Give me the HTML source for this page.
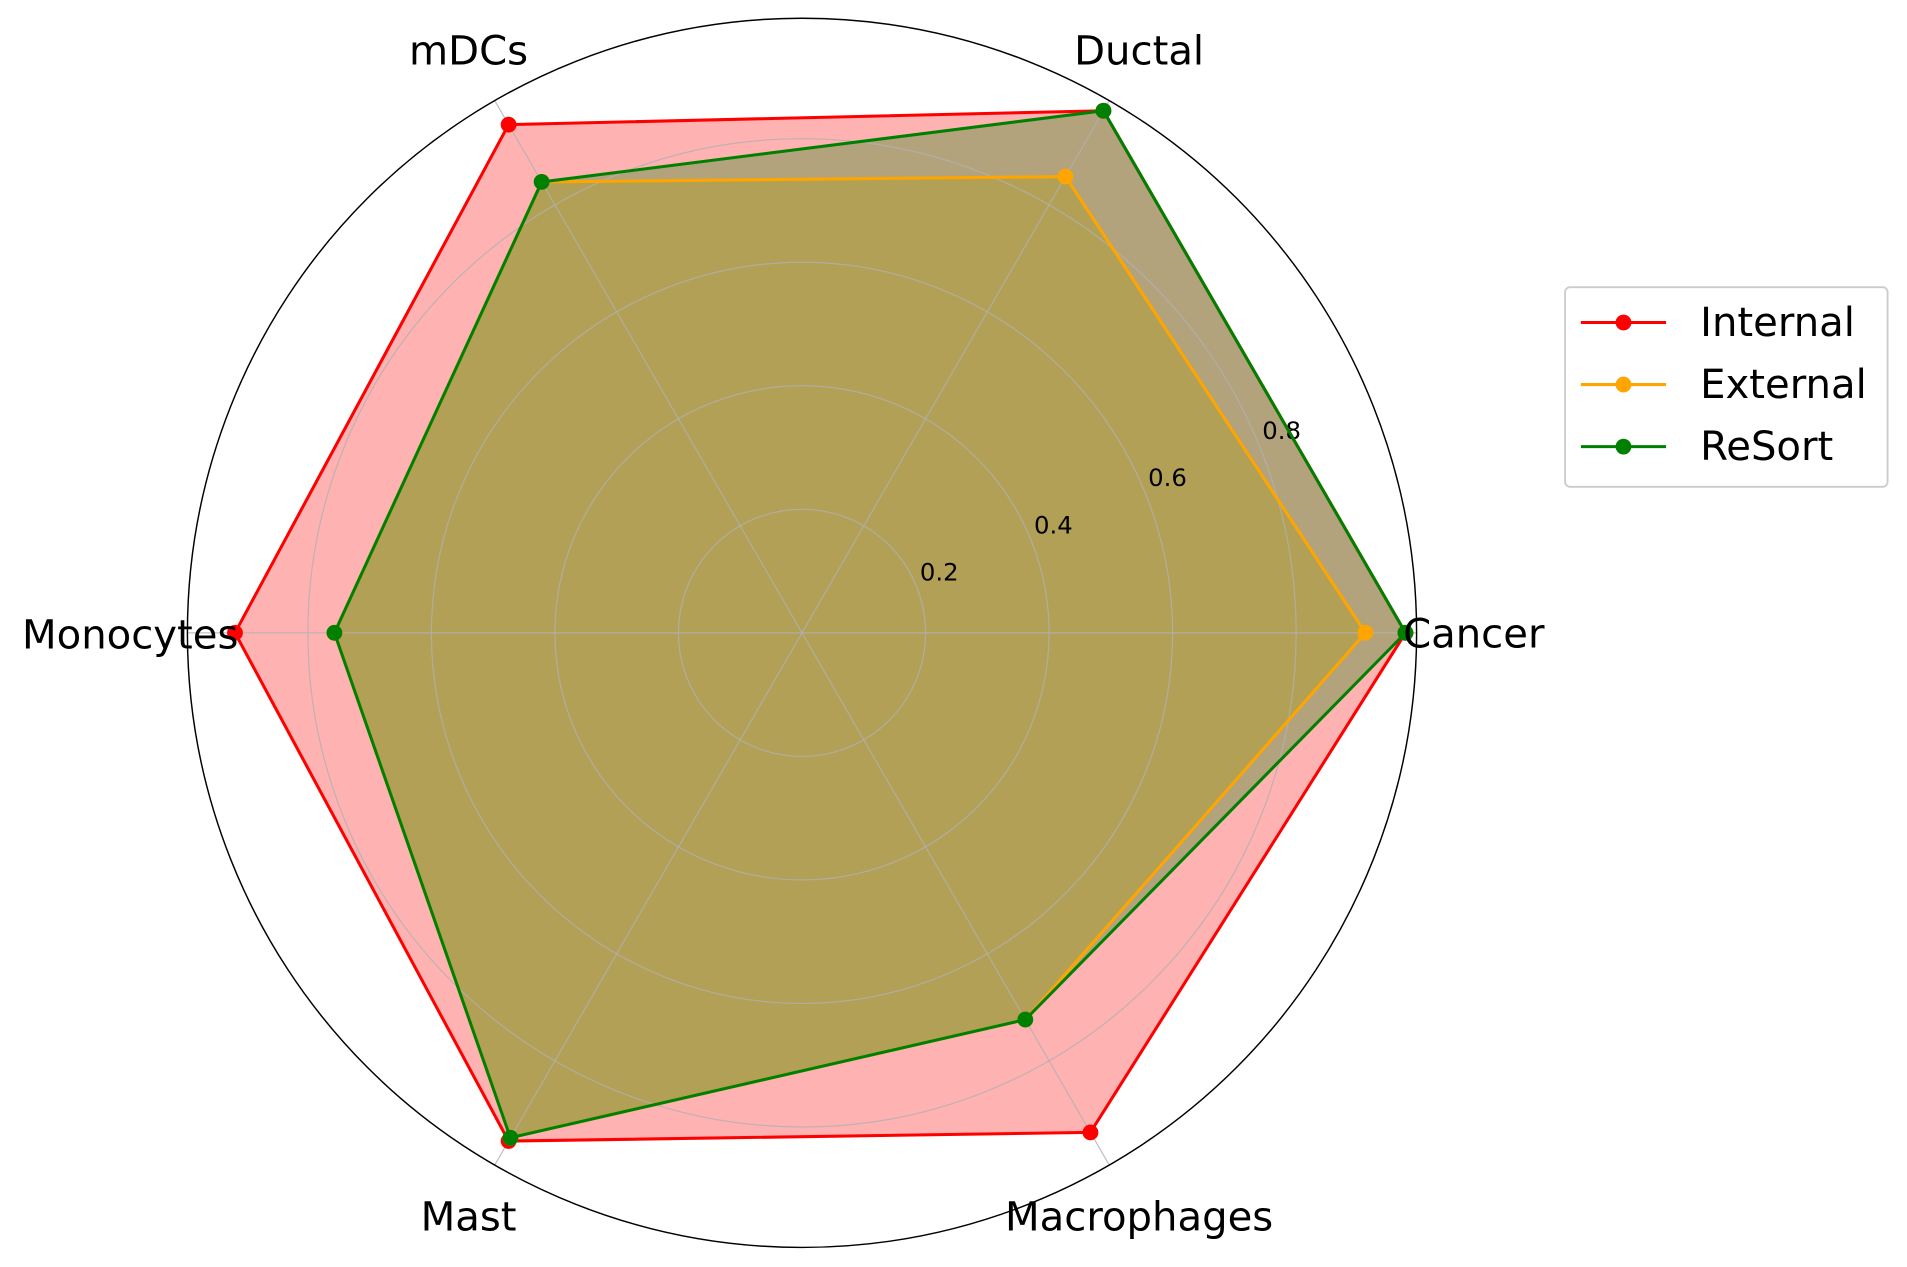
<!DOCTYPE html>
<html><head><meta charset="utf-8"><style>
html,body{margin:0;padding:0;background:#fff;}
svg{display:block;font-family:"DejaVu Sans","Liberation Sans",sans-serif;}
</style></head><body>
<svg id="chart" width="1907" height="1267" viewBox="0 0 1907 1267">
<g transform="scale(1.217)">
<g id="series"></g>
<g id="grid"></g>
<g id="marks"></g>
<g id="labels"></g>
<g id="legend">
<rect x="1286" y="236" width="265" height="164" rx="4" fill="#fff" stroke="#ccc" stroke-width="1.5"/>
</g>
</g>
</svg>
<script>
const categories = ["Cancer","Ductal","mDCs","Monocytes","Mast","Macrophages"];
const seriesNames = ["Internal","External","ReSort"];
const internalValues = [0.977,0.976,0.950,0.918,0.950,0.934];
const externalValues = [0.912,0.853,0.843,0.757,0.944,0.723];
const resortValues = [0.977,0.976,0.843,0.757,0.944,0.723];
const tickValues = [0.2,0.4,0.6,0.8];
const tickLabels = ["0.2","0.4","0.6","0.8"];
const colors = ["#ff0000","#ffa500","#008000"];
const allSeries = [internalValues, externalValues, resortValues];

const NS="http://www.w3.org/2000/svg";
const cx=659, cy=520, R=505, rmax=0.995;
function rScale(v){return v/rmax*R;}
function ang(i){return i*2*Math.PI/categories.length;}
function pt(i,v){const a=ang(i),r=rScale(v);return [cx+r*Math.cos(a), cy-r*Math.sin(a)];}
function mk(tag,attrs,parent){const e=document.createElementNS(NS,tag);for(const k in attrs)e.setAttribute(k,attrs[k]);parent.appendChild(e);return e;}

const grid=document.getElementById('grid');
tickValues.forEach((t,k)=>{
  const c=mk('circle',{cx:cx,cy:cy,r:rScale(t),fill:'none',stroke:'#b0b0b0','stroke-width':1,'stroke-opacity':0.8},grid);
  
  
});
categories.forEach((c,i)=>{
  const a=ang(i);
  const l=mk('line',{x1:cx,y1:cy,x2:cx+R*Math.cos(a),y2:cy-R*Math.sin(a),stroke:'#b0b0b0','stroke-width':1,'stroke-opacity':0.8},grid);
  
  
});
const outer=mk('circle',{cx:cx,cy:cy,r:R,fill:'none',stroke:'#000','stroke-width':1.2},grid);


const ta=22.5*Math.PI/180;
tickValues.forEach((t,k)=>{
  const r=rScale(t);
  const tx=mk('text',{x:cx+r*Math.cos(ta)+19,y:cy-r*Math.sin(ta)-4,'font-size':20,'text-anchor':'middle',fill:'#000'},grid);
  tx.textContent=tickLabels[k];
  
  
});

const sg=document.getElementById('series');
const mg=document.getElementById('marks');
allSeries.forEach((vals,s)=>{
  const pts=vals.map((v,i)=>pt(i,v));
  const d=pts.map(p=>p[0].toFixed(1)+','+p[1].toFixed(1)).join(' ');
  const f=mk('polygon',{points:d,fill:colors[s],'fill-opacity':0.3,stroke:'none'},sg);
  
  
});
allSeries.forEach((vals,s)=>{
  const pts=vals.map((v,i)=>pt(i,v));
  const d=pts.map(p=>p[0].toFixed(1)+','+p[1].toFixed(1)).join(' ');
  const l=mk('polygon',{points:d,fill:'none',stroke:colors[s],'stroke-width':2.5},mg);
  
  
  pts.forEach((p,i)=>{
    const m=mk('circle',{cx:p[0],cy:p[1],r:6.5,fill:colors[s]},mg);
    
    
  });
});

const lg=document.getElementById('labels');
const labelPos=[[1211,532,'middle'],[936,53,'middle'],[385,53,'middle'],[107,533,'middle'],[385,1011,'middle'],[936,1011,'middle']];
categories.forEach((c,i)=>{
  const p=labelPos[i];
  const t=mk('text',{x:p[0],y:p[1],'font-size':33,'text-anchor':p[2],fill:'#000'},lg);
  t.textContent=c;
  
  
});

const leg=document.getElementById('legend');
seriesNames.forEach((n,s)=>{
  const y=265+s*51;
  const l=mk('line',{x1:1299,y1:y,x2:1369,y2:y,stroke:colors[s],'stroke-width':2.5},leg);
  
  
  const m=mk('circle',{cx:1334,cy:y,r:6.5,fill:colors[s]},leg);
  
  
  const t=mk('text',{x:1397,y:y+11,'font-size':33,fill:'#000'},leg);
  t.textContent=n;
  
  
});
</script>
</body></html>
